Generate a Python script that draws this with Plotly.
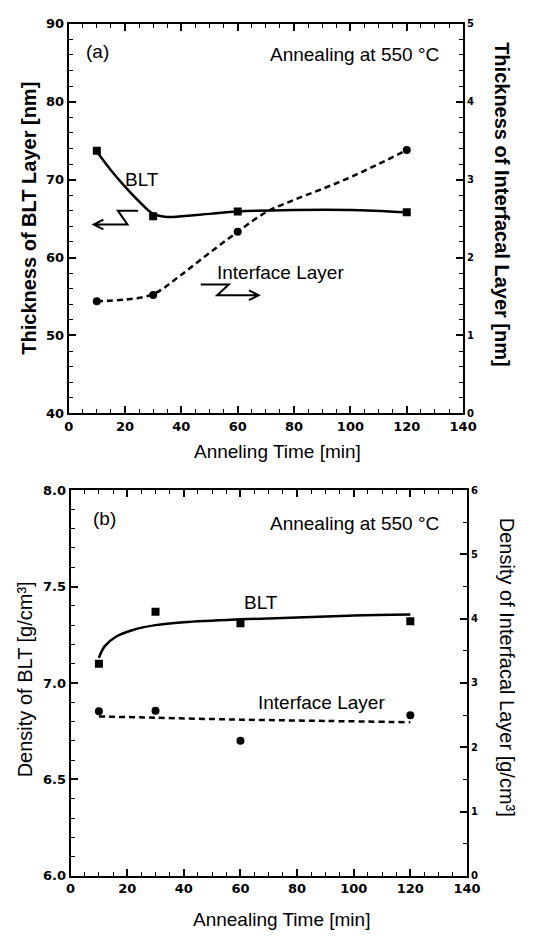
import plotly.graph_objects as go

W, H = 534, 937

# ---------------- data ----------------
time_min = [10, 30, 60, 120]

# panel (a)
blt_thickness = [73.7, 65.3, 65.9, 65.8]          # nm, left axis
if_thickness = [1.44, 1.52, 2.33, 3.38]           # nm, right axis
blt_fit_t = [10, 15, 20, 25, 30, 35, 40, 50, 60, 80, 100, 120]
blt_fit_th = [73.6, 71.2, 69.1, 67.2, 65.6, 65.2, 65.3, 65.6, 65.9, 66.1, 66.1, 65.8]
if_fit_t = [10, 20, 30, 40, 50, 60, 70, 80, 90, 100, 110, 120]
if_fit_th = [1.44, 1.46, 1.53, 1.78, 2.06, 2.33, 2.58, 2.74, 2.88, 3.03, 3.20, 3.38]

# panel (b)
blt_density = [7.10, 7.37, 7.31, 7.32]            # g/cm3, left axis
if_density = [2.56, 2.57, 2.10, 2.50]             # g/cm3, right axis
blt_dfit_t = [10, 12, 16, 22, 30, 40, 60, 80, 100, 120]
blt_dfit = [7.13, 7.19, 7.24, 7.275, 7.30, 7.315, 7.33, 7.34, 7.35, 7.355]
if_dfit_t = [10, 30, 60, 90, 120]
if_dfit = [2.48, 2.46, 2.43, 2.41, 2.39]

x_range = [0, 140]
thick_range = [40, 90]
if_thick_range = [0, 5]
dens_range = [6.0, 8.0]
if_dens_range = [0, 6]

# ---------------- helpers ----------------
def px(x):
    return x / W

def py(y):
    return 1 - y / H

FONT = "Liberation Sans, Arial, sans-serif"
TICKFONT = dict(family="DejaVu Sans", size=13, color="black", weight="bold")
TICKFONT_R = dict(family="DejaVu Sans", size=10, color="black", weight="bold")

fig = go.Figure()

line_solid = dict(color="black", width=2.5, shape="spline")
line_dash = dict(color="black", width=2.5, shape="spline", dash="6px,4px")

# panel (a)
fig.add_trace(go.Scatter(x=blt_fit_t, y=blt_fit_th, mode="lines", line=line_solid,
                         xaxis="x", yaxis="y", showlegend=False, hoverinfo="skip"))
fig.add_trace(go.Scatter(x=time_min, y=blt_thickness, mode="markers",
                         marker=dict(symbol="square", size=8, color="black"),
                         xaxis="x", yaxis="y", showlegend=False))
fig.add_trace(go.Scatter(x=if_fit_t, y=if_fit_th, mode="lines", line=line_dash,
                         xaxis="x", yaxis="y2", showlegend=False, hoverinfo="skip"))
fig.add_trace(go.Scatter(x=time_min, y=if_thickness, mode="markers",
                         marker=dict(symbol="circle", size=8, color="black"),
                         xaxis="x", yaxis="y2", showlegend=False))

# panel (b)
fig.add_trace(go.Scatter(x=blt_dfit_t, y=blt_dfit, mode="lines", line=line_solid,
                         xaxis="x2", yaxis="y3", showlegend=False, hoverinfo="skip"))
fig.add_trace(go.Scatter(x=time_min, y=blt_density, mode="markers",
                         marker=dict(symbol="square", size=8, color="black"),
                         xaxis="x2", yaxis="y3", showlegend=False))
fig.add_trace(go.Scatter(x=if_dfit_t, y=if_dfit, mode="lines", line=line_dash,
                         xaxis="x2", yaxis="y4", showlegend=False, hoverinfo="skip"))
fig.add_trace(go.Scatter(x=time_min, y=if_density, mode="markers",
                         marker=dict(symbol="circle", size=8, color="black"),
                         xaxis="x2", yaxis="y4", showlegend=False))

common = dict(showgrid=False, zeroline=False, showline=True, linecolor="black",
              linewidth=2, ticks="inside", ticklen=7, tickwidth=1.5,
              tickcolor="black")

def xax(domain, anchor):
    return dict(domain=domain, anchor=anchor, range=x_range, dtick=20, tick0=0,
                mirror="ticks", tickfont=TICKFONT,
                minor=dict(dtick=5, ticks="inside", ticklen=4, tickwidth=1,
                           tickcolor="black"), **common)

def yax(domain, anchor, rng, dt, mdt, fmt=None):
    d = dict(domain=domain, anchor=anchor, range=rng, dtick=dt, tickfont=TICKFONT,
             minor=dict(dtick=mdt, ticks="inside", ticklen=4, tickwidth=1,
                        tickcolor="black"), **common)
    if fmt:
        d["tickformat"] = fmt
    return d

def y2ax(over, anchor, rng, dt, mdt):
    return dict(overlaying=over, anchor=anchor, side="right", range=rng, dtick=dt,
                tickfont=TICKFONT_R,
                minor=dict(dtick=mdt, ticks="inside", ticklen=4, tickwidth=1,
                           tickcolor="black"), **common)

top_dom = [py(413), py(17)]
bot_dom = [py(883), py(491)]

fig.update_layout(
    width=W, height=H, margin=dict(l=0, r=0, t=0, b=0),
    plot_bgcolor="white", paper_bgcolor="white",
    xaxis=xax([px(66), px(475)], "y"),
    yaxis=yax(top_dom, "x", thick_range, 10, 2),
    yaxis2=y2ax("y", "x", if_thick_range, 1, 0.2),
    xaxis2=xax([px(68), px(479)], "y3"),
    yaxis3=yax(bot_dom, "x2", dens_range, 0.5, 0.1, ".1f"),
    yaxis4=y2ax("y3", "x2", if_dens_range, 1, 0.5),
)

def ann(text, x, y, size=19, xanchor="center", angle=0, bold=False):
    fig.add_annotation(text=text, x=px(x), y=py(y), xref="paper", yref="paper",
                       xanchor=xanchor, yanchor="middle", showarrow=False,
                       textangle=angle,
                       font=dict(family=FONT, size=size, color="black",
                                 weight="bold" if bold else "normal"))

# panel (a) texts
ann("(a)", 96, 45)
ann("Annealing at 550 °C", 452, 48, xanchor="right")
ann("BLT", 142, 175)
ann("Interface Layer", 218, 270, xanchor="left")
ann("Anneling Time [min]", 283, 452)
ann("Thickness of BLT Layer [nm]", 24, 215, size=20, angle=-90, bold=True)
ann("Thickness of Interfacal Layer [nm]", 516, 201, size=20, angle=90, bold=True)

# panel (b) texts
ann("(b)", 103, 520)
ann("Annealing at 550 °C", 452, 525, xanchor="right")
ann("BLT", 265, 605)
ann("Interface Layer", 260, 707, xanchor="left")
ann("Annealing Time [min]", 287, 927)
ann("Density of BLT [g/cm³]", 21, 683, size=20, angle=-90)
ann("Density of Interfacal Layer [g/cm³]", 520, 671, size=20, angle=90)

# zig-zag arrows (decorations, pixel positions converted to paper)
def path(pts_list):
    s = ""
    for pts in pts_list:
        s += "M {:.4f},{:.4f} ".format(px(pts[0][0]), py(pts[0][1]))
        for (a, b) in pts[1:]:
            s += "L {:.4f},{:.4f} ".format(px(a), py(b))
    return s

left_arrow = [[(138, 207), (117, 207), (127, 221), (92, 221)],
              [(102, 216), (92, 221), (102, 226)]]
right_arrow = [[(203, 282), (232, 282), (220, 293), (263, 293)],
               [(253, 288), (263, 293), (253, 298)]]
for a in (left_arrow, right_arrow):
    fig.add_shape(type="path", path=path(a), xref="paper", yref="paper",
                  line=dict(color="black", width=2))

fig.write_html("out.html")
